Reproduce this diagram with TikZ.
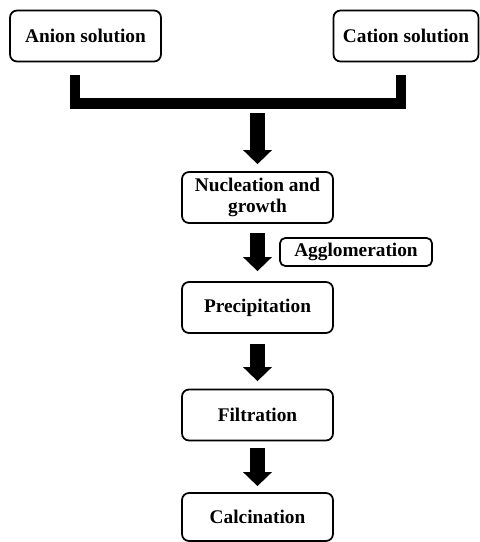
\documentclass[tikz,border=0pt]{standalone}
\usepackage{fontspec}
\setmainfont{Liberation Serif}
\usetikzlibrary{arrows.meta}

\tikzset{
  stage/.style={draw, line width=1pt, rounded corners=4pt, minimum width=3.02cm, minimum height=1.02cm,
    font=\fontsize{11}{12}\selectfont\bfseries, align=center, inner sep=2pt},
  flow/.style={line width=0.3cm, -{Triangle[length=0.28cm, width=0.56cm]}},
  mixbar/.style={line width=0.22cm}
}

\begin{document}
\begin{tikzpicture}[x=0.02cm, y=-0.02cm]
    \useasboundingbox (0,0) rectangle (480,542);
    % solutions
    \node[stage] (anion) at (85.5,36) {Anion solution};
    \node[stage, minimum width=2.9cm] (cation) at (406,36) {Cation solution};
    % mixing bracket
    \coordinate (anionfoot) at (75,75);
    \coordinate (cationfoot) at (401,75);
    \coordinate (mix) at (257.5,103.5);
    \draw[mixbar] (anionfoot) -- (75,103.5) -- (401,103.5) -- (cationfoot);
    % process steps
    \node[stage] (nucl) at (257.5,197.5) {Nucleation and\\growth};
    \node[stage, rounded corners=3pt, minimum width=3.04cm, minimum height=0.56cm] (aggl) at (356,252) {Agglomeration};
    \node[stage] (prec) at (257.5,307.5) {Precipitation};
    \node[stage] (filt) at (257.5,415) {Filtration};
    \node[stage, minimum height=0.96cm] (calc) at (257.5,517) {Calcination};
    % arrows
    \draw[flow, shorten <=0.19cm, shorten >=0.14cm] (mix) -- (nucl);
    \draw[flow, shorten <=0.18cm, shorten >=0.2cm] (nucl) -- (prec);
    \draw[flow, shorten <=0.2cm, shorten >=0.15cm] (prec) -- (filt);
    \draw[flow, shorten <=0.13cm, shorten >=0.12cm] (filt) -- (calc);
\end{tikzpicture}
\end{document}
